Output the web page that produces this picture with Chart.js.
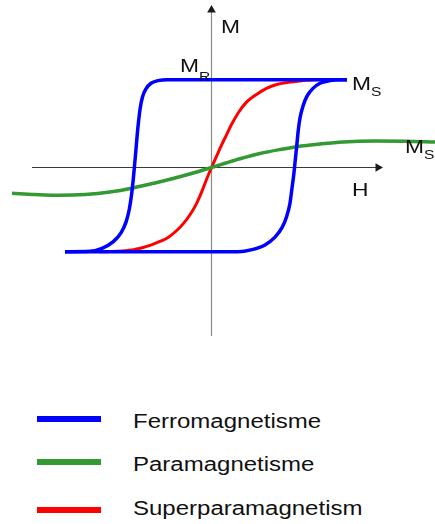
<!DOCTYPE html>
<html>
<head>
<meta charset="utf-8">
<script src="https://cdn.jsdelivr.net/npm/chart.js@4.4.1/dist/chart.umd.min.js"></script>
<style>
  html, body { margin: 0; padding: 0; background: #ffffff; }
  body { width: 435px; height: 524px; position: relative; overflow: hidden; font-family: "Liberation Sans", Arial, sans-serif; color: #111; }
  #chart { position: absolute; left: 0; top: 0; }
  .lbl { position: absolute; font-size: 19px; line-height: 19px; white-space: nowrap; transform: scaleX(1.2); transform-origin: 0 0; color: #111; }
  .lbl .sub { font-size: 13px; position: relative; }
  .leg-line { position: absolute; left: 37px; width: 64px; height: 6px; }
  .leg-text { position: absolute; left: 133px; font-size: 20px; line-height: 20px; white-space: nowrap; transform: scaleX(1.2); transform-origin: 0 0; color: #111; }
</style>
</head>
<body>
<canvas id="chart" width="435" height="345"></canvas>

<div class="lbl" style="left:221px; top:17px;">M</div>
<div class="lbl" style="left:352px; top:180px;">H</div>
<div class="lbl" style="left:180px; top:56px;">M<span class="sub" style="top:9px;">R</span></div>
<div class="lbl" style="left:352px; top:74px;">M<span class="sub" style="top:6px;">S</span></div>
<div class="lbl" style="left:405px; top:137px;">M<span class="sub" style="top:6px;">S</span></div>

<div id="legend"></div>

<script>
// ---- Data (H in arbitrary field units, M in units of Ms) ----
// Ferromagnetic hysteresis loop: descending branch
const ferroDescH = [13.55, -4.45, -5.35, -6.05, -6.55, -6.9, -7.13, -7.29, -7.43, -7.56, -7.69, -7.83, -8.0, -8.22, -8.55, -9.05, -9.85, -10.95, -12.15, -14.65];
const ferroDescM = [1.02, 1.02, 1.01, 0.98, 0.915, 0.82, 0.69, 0.54, 0.38, 0.20, 0.03, -0.145, -0.32, -0.485, -0.635, -0.76, -0.865, -0.94, -0.975, -0.98];
// Ferromagnetic hysteresis loop: ascending branch
const ferroAscH = [-14.65, 2.65, 4.05, 5.35, 6.35, 7.05, 7.5, 7.85, 8.05, 8.22, 8.38, 8.53, 8.67, 8.85, 9.15, 9.55, 10.15, 10.85, 11.85, 12.65, 13.55];
const ferroAscM = [-0.98, -0.98, -0.955, -0.90, -0.81, -0.70, -0.575, -0.415, -0.24, -0.09, 0.09, 0.26, 0.425, 0.575, 0.715, 0.83, 0.92, 0.98, 1.01, 1.02, 1.02];
// Superparamagnetic curve
const superH = [-11.2, -9.5, -8.0, -6.85, -6.0, -5.15, -4.3, -3.45, -2.8, -2.15, -1.5, -1.0, -0.5, 0, 0.5, 1.0, 1.5, 2.0, 2.7, 3.5, 4.5, 5.5, 6.5, 7.7, 9.0, 10.4];
const superM = [-0.98, -0.975, -0.96, -0.93, -0.90, -0.86, -0.81, -0.73, -0.65, -0.55, -0.42, -0.29, -0.14, 0, 0.13, 0.26, 0.38, 0.50, 0.64, 0.76, 0.85, 0.92, 0.965, 0.99, 1.01, 1.02];
// Paramagnetic curve
const paraH = [-19.95, -17.65, -15.15, -12.65, -10.15, -7.85, -5.65, -3.65, -1.65, 0, 1.35, 2.85, 4.85, 6.85, 8.55, 10.85, 13.15, 16.35, 19.35, 22.35];
const paraM = [-0.30, -0.314, -0.323, -0.314, -0.285, -0.238, -0.18, -0.122, -0.058, 0, 0.049, 0.102, 0.163, 0.209, 0.242, 0.273, 0.297, 0.308, 0.306, 0.297];
// Axes (H axis and M axis, with arrow at the end)
const hAxisH = [-17.95, 16.65];
const hAxisM = [0, 0];
const mAxisH = [0, 0];
const mAxisM = [-1.96, 1.83];
// Legend
const legendLabels = ['Ferromagnetisme', 'Paramagnetisme', 'Superparamagnetism'];
const legendColors = ['#0000ff', '#339933', '#ff0000'];

function pts(xs, ys) { return xs.map((x, i) => ({ x: x, y: ys[i] })); }

function curve(xs, ys, color, width) {
  return {
    data: pts(xs, ys),
    showLine: true,
    borderColor: color,
    backgroundColor: color,
    borderWidth: width,
    pointRadius: 0,
    cubicInterpolationMode: 'monotone',
    borderCapStyle: 'butt',
    borderJoinStyle: 'round',
    fill: false
  };
}

function axis(xs, ys, lineColor, arrowColor, rot) {
  return {
    data: pts(xs, ys),
    showLine: true,
    borderColor: lineColor,
    borderWidth: 1.2,
    tension: 0,
    pointStyle: 'triangle',
    pointRadius: (ctx) => (ctx.dataIndex === 1 ? 5 : 0),
    pointRotation: rot,
    pointBackgroundColor: arrowColor,
    pointBorderColor: arrowColor,
    pointBorderWidth: 0,
    fill: false
  };
}

new Chart(document.getElementById('chart'), {
  type: 'scatter',
  data: {
    datasets: [
      curve(ferroDescH, ferroDescM, '#0000ff', 3.5),
      curve(ferroAscH, ferroAscM, '#0000ff', 3.5),
      curve(paraH, paraM, '#339933', 3.5),
      curve(superH, superM, '#ff0000', 3),
      axis(hAxisH, hAxisM, '#3a3a3a', '#1a1a1a', 90),
      axis(mAxisH, mAxisM, '#8a8a8a', '#1a1a1a', 0)
    ]
  },
  options: {
    responsive: false,
    animation: false,
    devicePixelRatio: 1,
    events: [],
    layout: { padding: 0, autoPadding: false },
    plugins: { legend: { display: false }, tooltip: { enabled: false } },
    scales: {
      x: { type: 'linear', min: -21.15, max: 22.35, display: false },
      y: { type: 'linear', min: -2.064, max: 1.9477, display: false }
    }
  }
});

// HTML legend built from the arrays
const legTops = [416, 459, 507];
const textTops = [411, 454, 498];
const leg = document.getElementById('legend');
legendLabels.forEach((lab, i) => {
  const ln = document.createElement('div');
  ln.className = 'leg-line';
  ln.style.top = legTops[i] + 'px';
  ln.style.background = legendColors[i];
  leg.appendChild(ln);
  const tx = document.createElement('div');
  tx.className = 'leg-text';
  tx.style.top = textTops[i] + 'px';
  tx.textContent = lab;
  leg.appendChild(tx);
});
</script>
</body>
</html>
